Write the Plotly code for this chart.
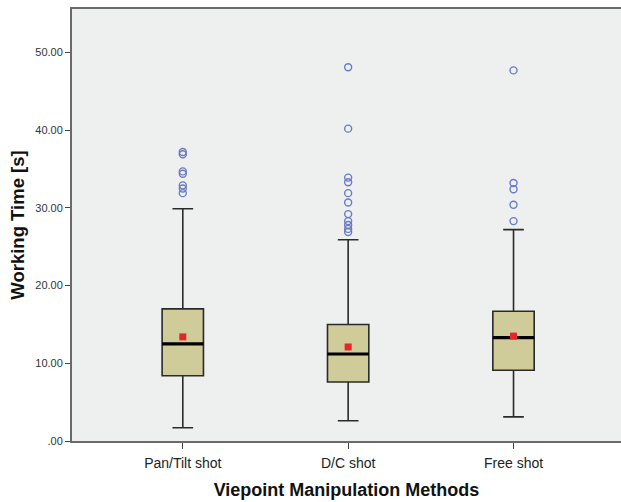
import plotly.graph_objects as go

categories = ["Pan/Tilt shot", "D/C shot", "Free shot"]
q1 = [8.4, 7.6, 9.1]
median = [12.5, 11.2, 13.3]
q3 = [17.0, 15.0, 16.7]
lower_whisker = [1.7, 2.6, 3.1]
upper_whisker = [29.9, 25.9, 27.2]
means = [13.4, 12.1, 13.5]
outliers = [
    [37.2, 36.9, 34.7, 34.4, 32.9, 32.5, 31.9],
    [48.1, 40.2, 33.9, 33.3, 31.9, 30.7, 29.2, 28.3, 27.8, 27.3, 26.9],
    [47.7, 33.2, 32.4, 30.4, 28.3],
]
y_ticks = [0, 10, 20, 30, 40, 50]
y_tick_labels = [".00", "10.00", "20.00", "30.00", "40.00", "50.00"]

BOX_W = 0.25
pos = list(range(len(categories)))

fig = go.Figure()
fig.add_trace(go.Box(
    x=pos, q1=q1, median=median, q3=q3,
    lowerfence=lower_whisker, upperfence=upper_whisker,
    width=BOX_W, whiskerwidth=0.5,
    fillcolor="#CFCC9A", line=dict(color="#2a2a2a", width=1.6),
    boxpoints=False, showlegend=False, hoverinfo="skip",
))

# thick median lines
for i, m in enumerate(median):
    fig.add_trace(go.Scatter(
        x=[pos[i] - BOX_W / 2, pos[i] + BOX_W / 2], y=[m, m], mode="lines",
        line=dict(color="black", width=3.2), showlegend=False, hoverinfo="skip"))

# outliers
ox, oy = [], []
for i, vals in enumerate(outliers):
    ox += [pos[i]] * len(vals)
    oy += vals
fig.add_trace(go.Scatter(
    x=ox, y=oy, mode="markers",
    marker=dict(symbol="circle-open", size=7, color="#6A7BC4", line=dict(width=1.4)),
    showlegend=False, hoverinfo="skip"))

# means
fig.add_trace(go.Scatter(
    x=pos, y=means, mode="markers",
    marker=dict(symbol="square", size=7, color="#E5262A"),
    showlegend=False, hoverinfo="skip"))

fig.update_layout(
    width=621, height=502,
    margin=dict(l=72, r=0, t=9, b=61),
    paper_bgcolor="white", plot_bgcolor="#EEF0EF",
    font=dict(family="Liberation Sans, Arial, sans-serif", color="#222"),
    xaxis=dict(
        range=[-0.67, 2.65], tickvals=pos, ticktext=categories,
        showgrid=False, zeroline=False,
        showline=True, mirror=True, linecolor="#6a6a6a", linewidth=2,
        ticks="outside", ticklen=6, tickcolor="#444", tickwidth=1,
        ticklabelstandoff=2,
        tickfont=dict(size=14, color="#222"),
        title=dict(text="<b>Viepoint Manipulation Methods</b>", font=dict(size=18, color="#111"), standoff=14),
    ),
    yaxis=dict(
        range=[0, 55.6], tickvals=y_ticks, ticktext=y_tick_labels,
        showgrid=False, zeroline=False,
        showline=True, linecolor="#6a6a6a", linewidth=2,
        ticks="outside", ticklen=5, tickcolor="#444", tickwidth=1,
        tickfont=dict(size=11, color="#333"),
        title=dict(text="<b>Working Time [s]</b>", font=dict(size=18.5, color="#111"), standoff=6),
    ),
)

fig.write_html(
    "out.html",
    config={"displayModeBar": False},
    post_script="document.body.style.margin='0';document.body.style.overflow='hidden';",
)
